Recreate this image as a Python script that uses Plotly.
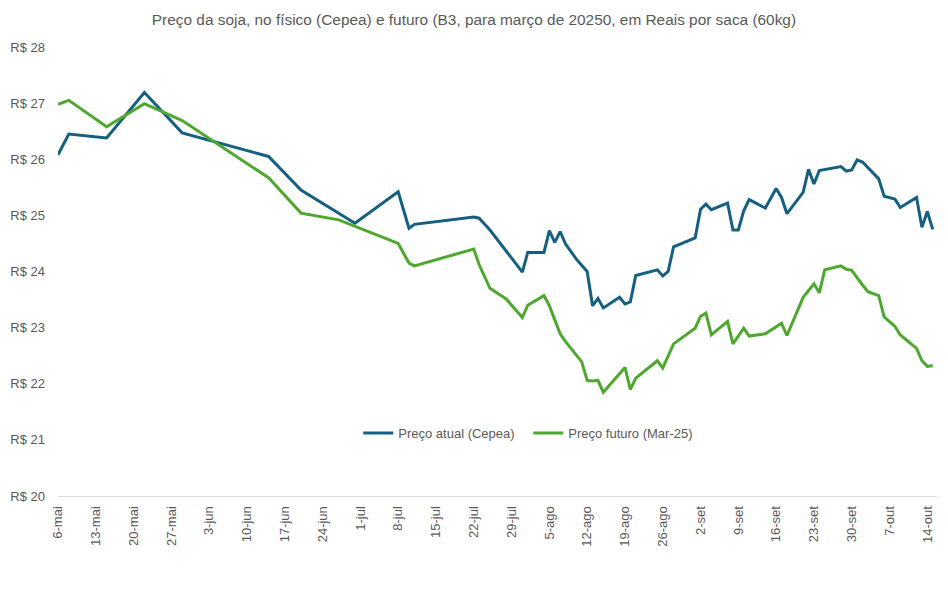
import plotly.graph_objects as go

title_text = "Preço da soja, no físico (Cepea) e futuro (B3, para março de 20250, em Reais por saca (60kg)"
name_atual = "Preço atual (Cepea)"
name_futuro = "Preço futuro (Mar-25)"

dates_atual = [
    "2024-05-06", "2024-05-08", "2024-05-15", "2024-05-22", "2024-05-29", "2024-06-14",
    "2024-06-20", "2024-06-30", "2024-07-08", "2024-07-10", "2024-07-11", "2024-07-22",
    "2024-07-23", "2024-07-25", "2024-07-31", "2024-08-01", "2024-08-04", "2024-08-05",
    "2024-08-06", "2024-08-07", "2024-08-08", "2024-08-10", "2024-08-12", "2024-08-13",
    "2024-08-14", "2024-08-15", "2024-08-18", "2024-08-19", "2024-08-20", "2024-08-21",
    "2024-08-25", "2024-08-26", "2024-08-27", "2024-08-28", "2024-09-01", "2024-09-02",
    "2024-09-03", "2024-09-04", "2024-09-07", "2024-09-08", "2024-09-09", "2024-09-10",
    "2024-09-11", "2024-09-14", "2024-09-16", "2024-09-17", "2024-09-18", "2024-09-21",
    "2024-09-22", "2024-09-23", "2024-09-24", "2024-09-28", "2024-09-29", "2024-09-30",
    "2024-10-01", "2024-10-02", "2024-10-05", "2024-10-06", "2024-10-08", "2024-10-09",
    "2024-10-12", "2024-10-13", "2024-10-14", "2024-10-15",
]
preco_atual = [
    26.08, 26.45, 26.38, 27.19, 26.47, 26.05,
    25.45, 24.86, 25.42, 24.77, 24.84, 24.97,
    24.95, 24.74, 23.99, 24.34, 24.34, 24.73,
    24.52, 24.71, 24.49, 24.22, 24.00, 23.39,
    23.52, 23.35, 23.54, 23.42, 23.46, 23.93,
    24.03, 23.92, 24.00, 24.44, 24.60, 25.11,
    25.20, 25.10, 25.22, 24.74, 24.74, 25.08,
    25.28, 25.13, 25.48, 25.32, 25.03, 25.41,
    25.82, 25.56, 25.80, 25.87, 25.79, 25.81,
    25.99, 25.95, 25.65, 25.34, 25.29, 25.14,
    25.32, 24.79, 25.07, 24.75,
]

dates_futuro = [
    "2024-05-06", "2024-05-08", "2024-05-15", "2024-05-22", "2024-05-29", "2024-06-14",
    "2024-06-20", "2024-06-27", "2024-07-08", "2024-07-10", "2024-07-11", "2024-07-22",
    "2024-07-23", "2024-07-25", "2024-07-28", "2024-07-31", "2024-08-01", "2024-08-04",
    "2024-08-05", "2024-08-07", "2024-08-08", "2024-08-11", "2024-08-12", "2024-08-13",
    "2024-08-14", "2024-08-15", "2024-08-19", "2024-08-20", "2024-08-21", "2024-08-25",
    "2024-08-26", "2024-08-28", "2024-09-01", "2024-09-02", "2024-09-03", "2024-09-04",
    "2024-09-07", "2024-09-08", "2024-09-10", "2024-09-11", "2024-09-14", "2024-09-17",
    "2024-09-18", "2024-09-21", "2024-09-23", "2024-09-24", "2024-09-25", "2024-09-28",
    "2024-09-29", "2024-09-30", "2024-10-02", "2024-10-03", "2024-10-05", "2024-10-06",
    "2024-10-08", "2024-10-09", "2024-10-12", "2024-10-13", "2024-10-14", "2024-10-15",
]
preco_futuro = [
    26.98, 27.05, 26.58, 26.99, 26.69, 25.67,
    25.04, 24.92, 24.50, 24.15, 24.10, 24.40,
    24.12, 23.70, 23.51, 23.18, 23.40, 23.57,
    23.39, 22.89, 22.75, 22.39, 22.06, 22.05,
    22.06, 21.85, 22.29, 21.90, 22.10, 22.41,
    22.28, 22.71, 22.99, 23.20, 23.26, 22.87,
    23.11, 22.71, 22.99, 22.85, 22.89, 23.08,
    22.86, 23.54, 23.78, 23.62, 24.03, 24.10,
    24.04, 24.02, 23.76, 23.64, 23.57, 23.19,
    23.02, 22.87, 22.63, 22.41, 22.31, 22.32,
]

tick_dates = [
    "2024-05-06", "2024-05-13", "2024-05-20", "2024-05-27", "2024-06-03", "2024-06-10",
    "2024-06-17", "2024-06-24", "2024-07-01", "2024-07-08", "2024-07-15", "2024-07-22",
    "2024-07-29", "2024-08-05", "2024-08-12", "2024-08-19", "2024-08-26", "2024-09-02",
    "2024-09-09", "2024-09-16", "2024-09-23", "2024-09-30", "2024-10-07", "2024-10-14",
]
tick_labels = [
    "6-mai", "13-mai", "20-mai", "27-mai", "3-jun", "10-jun",
    "17-jun", "24-jun", "1-jul", "8-jul", "15-jul", "22-jul",
    "29-jul", "5-ago", "12-ago", "19-ago", "26-ago", "2-set",
    "9-set", "16-set", "23-set", "30-set", "7-out", "14-out",
]
y_ticks = [20, 21, 22, 23, 24, 25, 26, 27, 28]
y_labels = ["R$ 20", "R$ 21", "R$ 22", "R$ 23", "R$ 24", "R$ 25", "R$ 26", "R$ 27", "R$ 28"]

BLUE = "#156082"
GREEN = "#4EA72E"
GRAY = "#595959"
FONT = "Liberation Sans, Arial, sans-serif"

fig = go.Figure()
fig.add_trace(go.Scatter(x=dates_atual, y=preco_atual, mode="lines", name=name_atual,
                         line=dict(color=BLUE, width=3)))
fig.add_trace(go.Scatter(x=dates_futuro, y=preco_futuro, mode="lines", name=name_futuro,
                         line=dict(color=GREEN, width=3)))

fig.update_layout(
    width=940, height=582,
    margin=dict(l=50, r=11, t=39, b=94, autoexpand=False),
    paper_bgcolor="white", plot_bgcolor="white",
    font=dict(family=FONT, color=GRAY, size=13),
    title=dict(text=title_text, x=0.4957, xanchor="center", y=0.9794, yanchor="middle",
               font=dict(size=15.4, color=GRAY, family=FONT)),
    legend=dict(orientation="h", x=0.535, xanchor="center", y=0.14, yanchor="middle",
                font=dict(size=13, color=GRAY), bgcolor="rgba(0,0,0,0)",
                itemwidth=30, entrywidth=125, tracegroupgap=0),
    showlegend=True,
)
fig.update_xaxes(
    type="date", range=["2024-05-06", "2024-10-15 19:00"],
    tickmode="array", tickvals=tick_dates, ticktext=tick_labels, tickangle=-90,
    tickfont=dict(size=13, color=GRAY), showgrid=False, zeroline=False,
    showline=True, linecolor="#D9D9D9", linewidth=1, ticks="", ticklabelstandoff=4,
)
fig.update_yaxes(
    range=[20, 28], tickmode="array", tickvals=y_ticks, ticktext=y_labels,
    tickfont=dict(size=13, color=GRAY), showgrid=False, zeroline=False, showline=False,
    ticks="", ticklabelstandoff=12,
)

fig.write_html("out.html")
